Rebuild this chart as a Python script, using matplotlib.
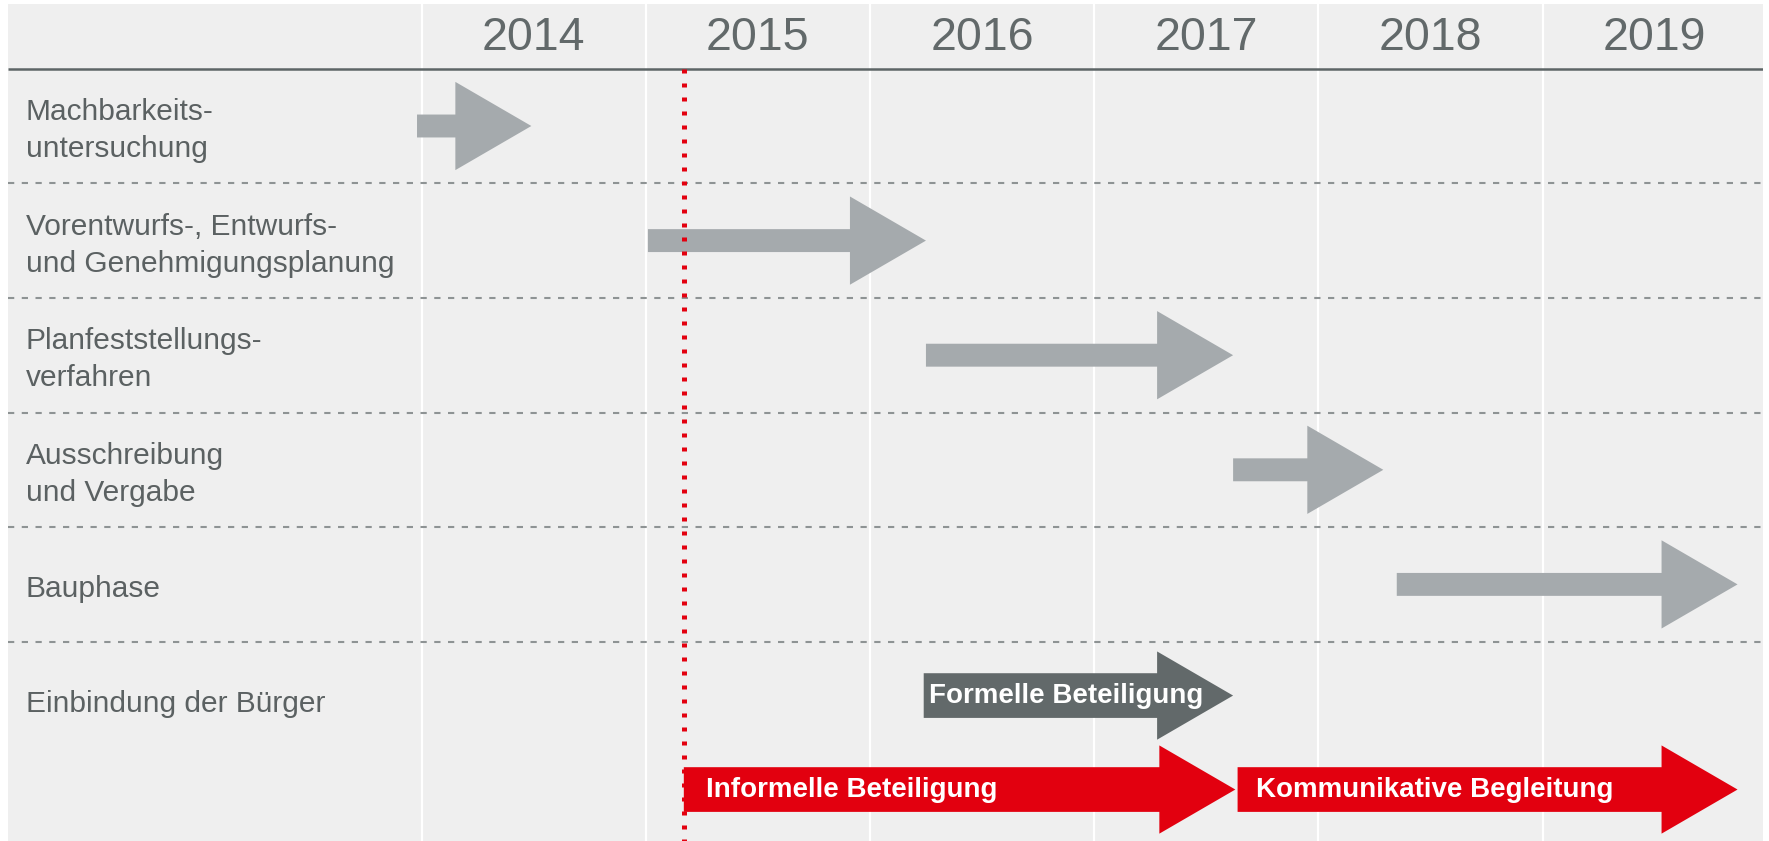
import matplotlib
matplotlib.use("Agg")
import matplotlib.pyplot as plt
from matplotlib.patches import FancyArrow
from matplotlib import font_manager as fm

# ---------------- data ----------------
years = [2014, 2015, 2016, 2017, 2018, 2019]

phases = [
    "Machbarkeits-\nuntersuchung",
    "Vorentwurfs-, Entwurfs-\nund Genehmigungsplanung",
    "Planfeststellungs-\nverfahren",
    "Ausschreibung\nund Vergabe",
    "Bauphase",
]
phase_start = [2013.98, 2015.01, 2016.25, 2017.62, 2018.35]
phase_end = [2014.49, 2016.25, 2017.62, 2018.29, 2019.87]

citizen_label = "Einbindung der Bürger"
part_names = ["Formelle Beteiligung", "Informelle Beteiligung", "Kommunikative Begleitung"]
part_start = [2016.24, 2015.17, 2017.64]
part_end = [2017.62, 2017.63, 2019.87]
part_kind = ["formal", "informal", "informal"]

today_marker = 2015.17

# ---------------- style ----------------
W, H = 1769, 841
BG = "#efefef"
GRAY_ARROW = "#a5aaad"
DARK_ARROW = "#62696a"
RED = "#e2000f"
TEXT = "#5b6162"

names = {f.name for f in fm.fontManager.ttflist}
if "Liberation Sans Narrow" in names:
    label_font, label_size, arrow_font_size, lsp = "Liberation Sans Narrow", 25.5, 24, 1.15
else:
    label_font, label_size, arrow_font_size, lsp = "Liberation Sans", 21.5, 20, 1.42
year_font = "Liberation Sans" if "Liberation Sans" in names else "DejaVu Sans"

fig = plt.figure(figsize=(W / 100, H / 100), dpi=100)
fig.patch.set_facecolor("white")
# chart area: x from 8px to 1763px, y from 4px to bottom
ax = fig.add_axes([8 / W, 0, 1755 / W, 837 / H])
ax.set_facecolor(BG)
for s in ax.spines.values():
    s.set_visible(False)
ax.set_xticks([])
ax.set_yticks([])

px_per_year = 224.2
x2014 = 421.5
xmin = 2014 + (8 - x2014) / px_per_year
xmax = 2014 + (1763 - x2014) / px_per_year
row_h = 114.6
row0 = 126.0
ytop = (4 - row0) / row_h
ybot = (841 - row0) / row_h
ax.set_xlim(xmin, xmax)
ax.set_ylim(ybot, ytop)

# year column separators
ax.vlines(years, ytop, ybot, colors="white", lw=1.6, zorder=1)

# header line
ax.hlines(-0.5, xmin, xmax, colors="#5d6566", lw=1.8, zorder=2)

# dashed row separators
n_rows = len(phases) + 1
ax.hlines([i + 0.5 for i in range(n_rows - 1)], xmin, xmax, colors="#8e9394",
          lw=1.5, linestyles=[(0, (3, 3.6))], zorder=2)

# years in header
for y in years:
    ax.text(y + 0.5, -0.764, str(y), ha="center", va="center", fontsize=33.5,
            color="#62696a", family=year_font, zorder=3)

# row labels
label_x = 2014 + (26 - x2014) / px_per_year
for i, lab in enumerate(phases):
    ax.text(label_x, i + 0.04, lab, ha="left", va="center", fontsize=label_size,
            color=TEXT, family=label_font, linespacing=lsp, zorder=3)
ax.text(label_x, len(phases) + 0.04, citizen_label, ha="left", va="center",
        fontsize=label_size, color=TEXT, family=label_font, zorder=3)

head_len = 76 / px_per_year

# phase arrows
for i, (s, e) in enumerate(zip(phase_start, phase_end)):
    ax.add_patch(FancyArrow(s, i, e - s, 0, width=0.2, head_width=0.77,
                            head_length=head_len, length_includes_head=True,
                            color=GRAY_ARROW, lw=0, zorder=4))

# participation arrows
lane_y = {"formal": 4.97, "informal": 5.79}
lane_color = {"formal": DARK_ARROW, "informal": RED}
text_pad = [5 / px_per_year, 22 / px_per_year, 18 / px_per_year]
for name, s, e, k, pad in zip(part_names, part_start, part_end, part_kind, text_pad):
    yy = lane_y[k]
    ax.add_patch(FancyArrow(s, yy, e - s, 0, width=0.39, head_width=0.77,
                            head_length=head_len, length_includes_head=True,
                            color=lane_color[k], lw=0, zorder=4))
    ax.text(s + pad, yy, name, ha="left", va="center", fontsize=arrow_font_size,
            color="white", family=label_font, fontweight="bold", zorder=6)

# red dotted marker line
ax.vlines(today_marker, -0.5, ybot, colors="#e3000f", lw=3.6,
          linestyles=[(0, (0.8, 2.0))], zorder=7)

fig.savefig("out.png", dpi=100, facecolor="white")
